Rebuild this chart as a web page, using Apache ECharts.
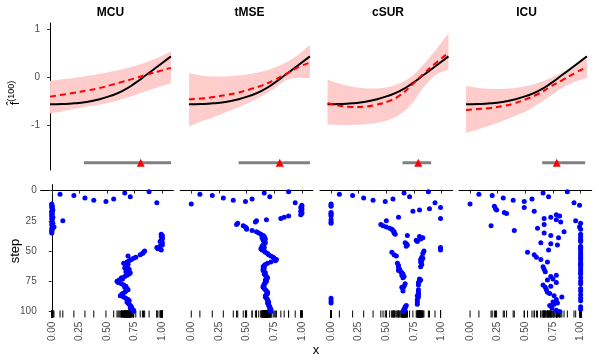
<!DOCTYPE html>
<html><head><meta charset="utf-8">
<script src="https://cdn.jsdelivr.net/npm/echarts@6/dist/echarts.min.js"></script>
<style>html,body{margin:0;padding:0;background:#fff}#c{width:599px;height:360px}</style>
</head><body><div id="c"></div>
<script>
// ---------------- DATA ----------------
const methods = ['MCU', 'tMSE', 'cSUR', 'ICU'];
const xGrid = [0, 0.1, 0.2, 0.3, 0.4, 0.5, 0.6, 0.7, 0.8, 0.9, 1.0];
const yTicksTop = [-1, 0, 1];
const xTicksBottom = [0, 0.25, 0.5, 0.75, 1];
const yTicksBottom = [0, 25, 50, 75, 100];

// true function (black)
const truthF = [-0.57, -0.565, -0.55, -0.52, -0.47, -0.395, -0.29, -0.135, 0.05, 0.24, 0.43];

// GP estimate (red dashed) and band per method
const meanMCU  = [-0.41, -0.37, -0.33, -0.285, -0.235, -0.17, -0.10, -0.03, 0.05, 0.12, 0.19];
const upperMCU = [-0.08, -0.05, -0.02, 0.02, 0.06, 0.11, 0.16, 0.23, 0.31, 0.41, 0.53];
const lowerMCU = [-0.76, -0.72, -0.67, -0.62, -0.58, -0.53, -0.46, -0.38, -0.29, -0.21, -0.13];

const meanTMSE  = [-0.465, -0.45, -0.42, -0.38, -0.33, -0.26, -0.18, -0.07, 0.06, 0.2, 0.3];
const upperTMSE = [0.08, 0.03, 0.01, 0.01, 0.03, 0.06, 0.11, 0.19, 0.30, 0.46, 0.67];
const lowerTMSE = [-1.03, -0.93, -0.84, -0.74, -0.64, -0.53, -0.40, -0.25, -0.07, -0.02, -0.03];

const meanCSUR  = [-0.55, -0.6, -0.625, -0.62, -0.58, -0.51, -0.38, -0.16, 0.08, 0.3, 0.5];
const upperCSUR = [-0.06, -0.14, -0.2, -0.235, -0.24, -0.21, -0.13, 0.02, 0.28, 0.58, 0.91];
const lowerCSUR = [-0.99, -1.0, -1.0, -0.99, -0.96, -0.9, -0.78, -0.55, -0.2, 0.05, 0.15];

const meanICU  = [-0.69, -0.67, -0.645, -0.61, -0.55, -0.46, -0.35, -0.2, -0.06, 0.08, 0.21];
const upperICU = [-0.18, -0.23, -0.25, -0.25, -0.23, -0.19, -0.12, -0.02, 0.1, 0.24, 0.38];
const lowerICU = [-1.17, -1.09, -1.01, -0.92, -0.82, -0.71, -0.56, -0.39, -0.22, -0.1, -0.02];

// estimated crossing interval (grey bar) and true crossing (red triangle)
const intervalMCU  = [0.28, 1.0];
const intervalTMSE = [0.41, 1.0];
const intervalCSUR = [0.62, 0.857];
const intervalICU  = [0.63, 0.985];
const trueCrossing = 0.75;

// x chosen at steps 1..100
const stepsMCU = [
  0.88, 0.66, 0.075, 0.2, 0.71, 0.3, 0.56, 0.38, 0.49, 0.95,
  0, 0, 0.005, 0, 0.005, 0.01, 0, 0, 0.005, 0, 0, 0.01, 0, 0.005, 0.1, 0, 0.01, 0, 0.005, 0.02, 0, 0.005, 0, 0, 0,
  0.99, 1.0, 0.99, 1.0, 1.0, 0.99, 0.98, 1.0, 0.99, 1.0, 0.98, 0.95, 0.96, 0.99,
  0.84, 0.83, 0.82, 0.80, 0.69, 0.76, 0.74, 0.72, 0.70, 0.68,
  0.65, 0.69, 0.67, 0.68, 0.66, 0.70, 0.69, 0.67, 0.71, 0.70,
  0.68, 0.66, 0.63, 0.64, 0.61, 0.59, 0.60, 0.63, 0.65, 0.67,
  0.66, 0.68, 0.69, 0.67, 0.66, 0.64, 0.63, 0.62, 0.65, 0.67,
  0.69, 0.70, 0.68, 0.69, 0.70, 0.71, 0.72, 0.71, 0.73, 0.74, 0.74
];
const stepsTMSE = [
  0.88, 0.66, 0.078, 0.19, 0.71, 0.29, 0.55, 0.38, 0.49, 0.94,
  0, 1.0, 1.0, 0.99, 1.0, 1.0, 0.99, 1.0, 1.0, 0.99,
  0.88, 0.84, 0.81, 0.68, 0.59, 0.58, 0.42, 0.41, 0.47, 0.49,
  0.50, 0.50, 0.55, 0.59, 0.61, 0.63, 0.65, 0.66, 0.64, 0.67,
  0.65, 0.66, 0.67, 0.66, 0.65, 0.64, 0.66, 0.63, 0.64, 0.66,
  0.67, 0.69, 0.70, 0.72, 0.74, 0.75, 0.77, 0.76, 0.72, 0.69,
  0.67, 0.66, 0.65, 0.66, 0.65, 0.65, 0.66, 0.67, 0.66, 0.67,
  0.68, 0.69, 0.68, 0.67, 0.68, 0.67, 0.66, 0.66, 0.65, 0.65,
  0.66, 0.67, 0.68, 0.69, 0.69, 0.68, 0.67, 0.67, 0.68, 0.69,
  0.69, 0.70, 0.69, 0.70, 0.70, 0.71, 0.71, 0.72, 0.71, 0.72
];
const stepsCSUR = [
  0.88, 0.66, 0.075, 0.195, 0.71, 0.295, 0.56, 0.38, 0.49, 0.94,
  0, 0, 0, 0.99, 0.89, 0.80, 0.74, 0, 0, 0,
  0, 0.61, 0.99, 0, 0.5, 0, 0, 0.45, 0.47, 0.5,
  0.53, 0.55, 0.56, 0.57, 0.57, 0.58, 0.69, 0.80, 0.83, 0.81,
  0.77, 0.78, 0.67, 0.68, 0.69, 0.68, 0.99, 0.99, 0.99, 0.84,
  0.55, 0.83, 0.57, 0.59, 0.82, 0.83, 0.81, 0.82, 0.81, 0.60,
  0.82, 0.61, 0.81, 0.61, 0.62, 0.61, 0.63, 0.64, 0.65, 0.64,
  0.66, 0.65, 0.80, 0.81, 0.80, 0.79, 0.67, 0.79, 0.66, 0.64,
  0.65, 0.79, 0.65, 0.79, 0.79, 0.79, 0.78, 0.79, 0, 0.78,
  0, 0.78, 0, 0.78, 0.68, 0.67, 0.67, 0.66, 0.66, 0.65
];
const stepsICU = [
  0.88, 0.66, 0.08, 0.2, 0.71, 0.3, 0.56, 0.39, 0.49, 0.94,
  0, 0.99, 0.22, 0.49, 0.23, 0.24, 0.58, 0.31, 0.33, 0.78,
  0.81, 0.73, 0.67, 0.78, 0.955, 0.82, 1.0, 0.67, 0.19, 0.99,
  0.61, 1.0, 0.40, 0.85, 0.67, 1.0, 0.73, 1.0, 0.80, 1.0,
  1.0, 1.0, 0.64, 0.73, 0.79, 1.0, 1.0, 1.0, 0.71, 1.0,
  0.52, 1.0, 0.58, 1.0, 0.60, 1.0, 0.64, 1.0, 0.70, 1.0,
  1.0, 1.0, 0.66, 1.0, 0.67, 1.0, 0.68, 1.0, 1.0, 0.78,
  0.73, 1.0, 0.75, 0.70, 1.0, 0.78, 1.0, 0.66, 0.73, 0.68,
  1.0, 0.69, 1.0, 0.70, 0.72, 1.0, 0.76, 0.83, 1.0, 0.78,
  1.0, 0.75, 0.79, 0.76, 0.72, 1.0, 0.74, 1.0, 0.78, 0.81
];

// ---------------- BUILD ----------------
const means = [meanMCU, meanTMSE, meanCSUR, meanICU];
const uppers = [upperMCU, upperTMSE, upperCSUR, upperICU];
const lowers = [lowerMCU, lowerTMSE, lowerCSUR, lowerICU];
const intervals = [intervalMCU, intervalTMSE, intervalCSUR, intervalICU];
const steps = [stepsMCU, stepsTMSE, stepsCSUR, stepsICU];

const FONT = 'Liberation Sans, Arial, Helvetica, sans-serif';
const topLefts = [44, 183, 321.5, 460], topW = 133, topTop = 23, topH = 147;
const botLefts = [40.7, 180.2, 320, 459], botW = 132.7, botTop = 184.6, botH = 133;
const barLevel = -1.79;

const grids = [], xAxes = [], yAxes = [], series = [], graphics = [];
const pair = (xs, ys) => xs.map((x, i) => [x, ys[i]]);

// smooth pixel path through projected points (drawing only)
function smoothPath(pts, seg) {
  const out = [];
  const n = pts.length;
  for (let i = 0; i < n - 1; i++) {
    const p0 = pts[Math.max(i - 1, 0)], p1 = pts[i], p2 = pts[i + 1], p3 = pts[Math.min(i + 2, n - 1)];
    for (let k = 0; k < seg; k++) {
      const t = k / seg, t2 = t * t, t3 = t2 * t;
      const f = (a, b, c, d) => 0.5 * (2 * b + (-a + c) * t + (2 * a - 5 * b + 4 * c - d) * t2 + (-a + 3 * b - 3 * c + d) * t3);
      out.push([f(p0[0], p1[0], p2[0], p3[0]), f(p0[1], p1[1], p2[1], p3[1])]);
    }
  }
  out.push(pts[n - 1]);
  return out;
}

for (let p = 0; p < 4; p++) {
  grids.push({ left: topLefts[p], top: topTop, width: topW, height: topH });
  xAxes.push({ gridIndex: p, type: 'value', min: -0.05, max: 1.05, show: false });
  yAxes.push({
    gridIndex: p, type: 'value', min: -1.94, max: 1.125, show: p === 0,
    axisLine: { show: true, lineStyle: { color: '#000', width: 1 } },
    axisTick: { show: true, customValues: yTicksTop, length: 3, lineStyle: { color: '#333' } },
    axisLabel: { customValues: yTicksTop, color: '#4d4d4d', fontSize: 10, margin: 4, fontFamily: FONT },
    splitLine: { show: false }
  });
  const U = uppers[p], L = lowers[p];
  series.push({
    type: 'custom', xAxisIndex: p, yAxisIndex: p,
    data: xGrid.map((x, i) => [x, L[i], U[i]]),
    encode: { x: 0, y: [1, 2] }, silent: true, z: 1,
    renderItem: (params, api) => {
      if (params.dataIndex !== 0) return null;
      const up = xGrid.map((x, i) => api.coord([x, U[i]]));
      const lo = xGrid.map((x, i) => api.coord([x, L[i]]));
      const pts = smoothPath(up, 10).concat(smoothPath(lo, 10).reverse());
      return { type: 'polygon', shape: { points: pts }, style: { fill: '#ffcccc' } };
    }
  });
  series.push({
    type: 'line', xAxisIndex: p, yAxisIndex: p,
    data: intervals[p].map(x => [x, barLevel]),
    symbol: 'none', lineStyle: { color: '#808080', width: 3 }, z: 2
  });
  series.push({
    type: 'line', xAxisIndex: p, yAxisIndex: p, data: pair(xGrid, truthF),
    smooth: true, symbol: 'none', lineStyle: { color: '#000', width: 2 }, z: 3
  });
  series.push({
    type: 'line', xAxisIndex: p, yAxisIndex: p, data: pair(xGrid, means[p]),
    smooth: true, symbol: 'none', lineStyle: { color: '#ff0000', width: 2, type: [6, 4] }, z: 4
  });
  series.push({
    type: 'scatter', xAxisIndex: p, yAxisIndex: p, data: [[trueCrossing, barLevel]],
    symbol: 'triangle', symbolSize: 8, itemStyle: { color: '#ff0000', opacity: 1 }, z: 5
  });
  graphics.push({
    type: 'text', x: topLefts[p] + topW / 2, y: 13,
    style: { text: methods[p], font: 'bold 12px ' + FONT, fill: '#000', align: 'center', verticalAlign: 'middle' }
  });
}

for (let p = 0; p < 4; p++) {
  const g = 4 + p;
  grids.push({ left: botLefts[p], top: botTop, width: botW, height: botH });
  xAxes.push({
    gridIndex: g, type: 'value', min: -0.1, max: 1.1,
    axisLine: { show: true, lineStyle: { color: '#000', width: 1 } },
    axisTick: { show: true, customValues: xTicksBottom, length: 3, lineStyle: { color: '#333' } },
    axisLabel: { customValues: xTicksBottom, formatter: v => v.toFixed(2), rotate: 90, color: '#4d4d4d', fontSize: 10, margin: 4, fontFamily: FONT },
    splitLine: { show: false }
  });
  yAxes.push({
    gridIndex: g, type: 'value', min: -5, max: 105, inverse: true, show: p === 0,
    axisLine: { show: true, lineStyle: { color: '#000', width: 1 } },
    axisTick: { show: true, customValues: yTicksBottom, length: 3, lineStyle: { color: '#333' } },
    axisLabel: { customValues: yTicksBottom, color: '#4d4d4d', fontSize: 10, margin: 4, fontFamily: FONT },
    splitLine: { show: false }
  });
  series.push({
    type: 'scatter', xAxisIndex: g, yAxisIndex: g,
    data: steps[p].map(x => [x, 105]),
    symbol: 'rect', symbolSize: [1, 7], symbolOffset: [0, -3.5],
    itemStyle: { color: '#000', opacity: 1 }, silent: true, z: 2
  });
  series.push({
    type: 'scatter', xAxisIndex: g, yAxisIndex: g,
    data: steps[p].map((x, i) => [x, i + 1]),
    symbol: 'circle', symbolSize: 5, itemStyle: { color: '#0000ff', opacity: 1 }, z: 3
  });
}

graphics.push({
  type: 'text', x: 316, y: 350,
  style: { text: 'x', font: '13px ' + FONT, fill: '#000', align: 'center', verticalAlign: 'middle' }
});
graphics.push({
  type: 'text', x: 15, y: 251, rotation: Math.PI / 2,
  style: { text: 'step', font: '13px ' + FONT, fill: '#000', align: 'center', verticalAlign: 'middle' }
});
graphics.push({
  type: 'text', x: 15, y: 93, rotation: Math.PI / 2,
  style: {
    text: '{f|f\u0302}{s|(100)}', align: 'center', verticalAlign: 'middle',
    rich: {
      f: { fontSize: 13, fontFamily: FONT, fill: '#000', lineHeight: 16 },
      s: { fontSize: 9, fontFamily: FONT, fill: '#000', verticalAlign: 'top', lineHeight: 16 }
    }
  }
});

const chart = echarts.init(document.getElementById('c'), null, { renderer: 'canvas' });
chart.setOption({
  animation: false,
  backgroundColor: '#fff',
  grid: grids, xAxis: xAxes, yAxis: yAxes, series, graphic: graphics
});
</script></body></html>
